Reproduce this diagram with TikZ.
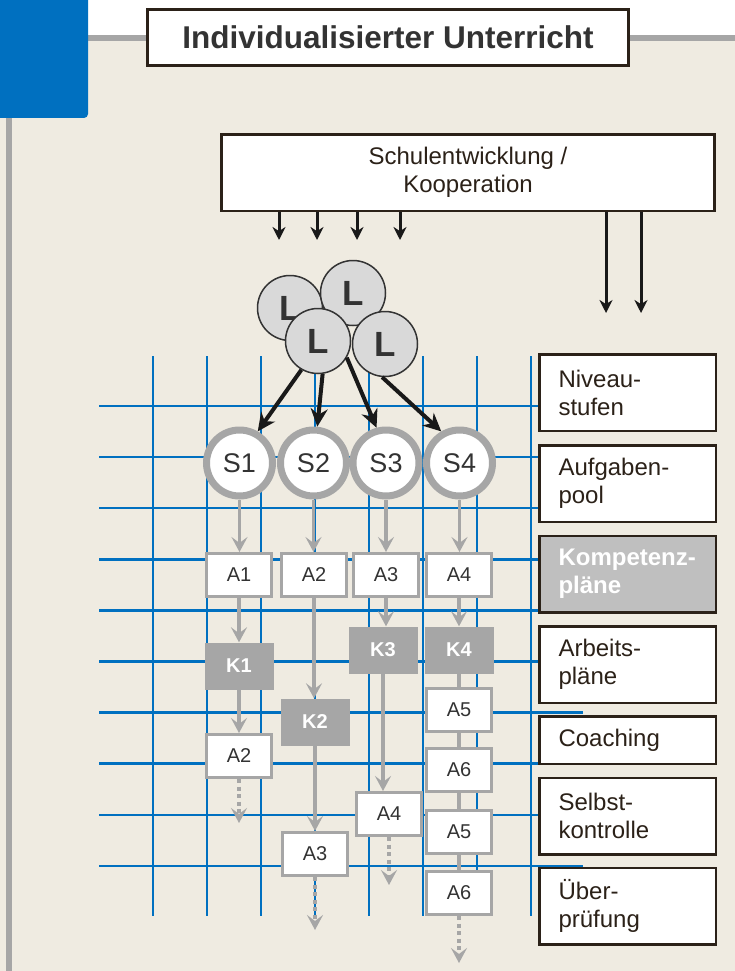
\documentclass[tikz,border=0pt]{standalone}
\usepackage{fontspec}
\setmainfont{Liberation Sans}
\usetikzlibrary{positioning,arrows.meta}
\definecolor{paper}{HTML}{EFEBE1}
\definecolor{gridblue}{HTML}{0070C0}
\definecolor{ringgrey}{HTML}{A6A6A6}
\definecolor{frameink}{HTML}{2B2118}
\definecolor{labelink}{HTML}{333333}
\definecolor{teacherfill}{HTML}{D9D9D9}
\definecolor{planfill}{HTML}{BFBFBF}
\tikzset{
	>={Stealth[length=13pt,width=13pt]},
	inkbox/.style = {draw=frameink, line width=2.5pt, fill=white, text=frameink},
	sidebox/.style = {inkbox, minimum height=76.5pt, text width=138pt, inner xsep=19.25pt, inner ysep=0pt, align=left},
	teacher/.style = {circle, draw=labelink, line width=1.5pt, fill=teacherfill, minimum size=65pt, inner sep=0pt, font=\fontsize{35}{35}\selectfont\bfseries, text=labelink},
	pupil/.style = {circle, draw=ringgrey, line width=7pt, fill=white, minimum size=66pt, inner sep=0pt, font=\fontsize{27}{27}\selectfont, text=labelink},
	task/.style = {draw=ringgrey, line width=3pt, fill=white, minimum width=65pt, minimum height=43pt, inner sep=0pt, font=\fontsize{20}{20}\selectfont, text=labelink},
	kbox/.style = {fill=ringgrey, minimum width=69pt, minimum height=47pt, inner sep=0pt, font=\fontsize{20}{20}\selectfont\bfseries, text=white},
	flow/.style = {draw=ringgrey, line width=3.2pt, -{Stealth[length=15pt,width=16pt,inset=6pt]}},
	flowdots/.style = {flow, line width=4pt, dash pattern=on 4pt off 3.5pt},
	linkline/.style = {draw=ringgrey, line width=4pt},
	push/.style = {->, draw=black!90, line width=3pt},
	assign/.style = {draw=black!90, line width=4pt, -{Stealth[length=18pt,width=17pt]}},
	gridline/.style = {draw=gridblue, line width=2.5pt},
}

\begin{document}
\begin{tikzpicture}[
x = 1pt,
y = -1pt,
every node/.style = {
	font = \fontsize{24}{28}\selectfont,
	align = center,
}
]
\useasboundingbox (0,0) rectangle (735,971);
\fill[paper] (0,0) rectangle (735,971);
\fill[white] (88,0) rectangle (735,37);
\draw[ringgrey, line width=6pt] (88,38) -- (735,38);
\draw[ringgrey, line width=6pt] (9,110) -- (9,971);
\fill[gridblue, rounded corners=4pt] (-6,-6) rectangle (88,118);

\node[inkbox, minimum width=481pt, minimum height=56pt, font=\fontsize{31.5}{31.5}\selectfont\bfseries, text=labelink] (title) at (388,37.5) {Individualisierter Unterricht};
\node[inkbox, minimum width=493pt, minimum height=76.5pt] (schule) at (468,172.5) {Schulentwicklung /\\Kooperation};

\foreach \k in {0,...,7}
	\draw[gridline] (153+54*\k,356) -- ++(0,560);
\foreach \k/\len in {0/439,1/439,2/439,3/439,4/439,5/439,6/484,7/439,8/439,9/484}
	\draw[gridline] (99,406+51.1*\k) -- ++(\len,0);

\node[sidebox] (niveau) at (627.5,392.5) {Niveau-\\stufen};
\node[sidebox] (pool) at (627.5,483.5) {Aufgaben-\\pool};
\node[sidebox, fill=planfill, text=white, font=\fontsize{24}{28}\selectfont\bfseries] (kompetenz) at (627.5,574) {Kompetenz-\\pläne};
\node[sidebox] (arbeit) at (627.5,664.5) {Arbeits-\\pläne};
\node[sidebox, minimum height=47.5pt] (coaching) at (627.5,740) {Coaching};
\node[sidebox] (selbst) at (627.5,816) {Selbst-\\kontrolle};
\node[sidebox] (pruef) at (627.5,906) {Über-\\prüfung};

\node[teacher] (l1) at (290,308) {L};
\node[teacher] (l2) at (353,293) {L};
\node[teacher] (l3) at (318,341) {L};
\node[teacher] (l4) at (385,344) {L};

\foreach \n/\x in {1/239.5,2/313.5,3/386,4/459.5}
	\node[pupil] (s\n) at (\x,463) {S\n};
\foreach \n/\x in {1/239,2/314,3/386,4/459}
	\node[task] (a\n) at (\x,575) {A\n};

\node[kbox] (k1) at (239,666) {K1};
\node[kbox] (k2) at (315,722) {K2};
\node[kbox] (k3) at (383,650) {K3};
\node[kbox] (k4) at (459,650) {K4};
\node[task] (a2b) at (239,756) {A2};
\node[task] (a3b) at (315,854) {A3};
\node[task] (a4b) at (389,814) {A4};
\node[task] (a5) at (459,710) {A5};
\node[task] (a6) at (459,770) {A6};
\node[task] (a5b) at (459,832) {A5};
\node[task] (a6b) at (459,893) {A6};

\draw[linkline] (k4) -- (a5) -- (a6) -- (a5b) -- (a6b);

\foreach \n in {1,...,4}
	\draw[flow] (s\n.south) -- (s\n.south |- a\n.north);
\draw[flow] (a1.south) -- (a1.south |- k1.north);
\draw[flow] (a2.south) -- (a2.south |- k2.north);
\draw[flow] (a3.south) -- (a3.south |- k3.north);
\draw[flow] (a4.south) -- (a4.south |- k4.north);
\draw[flow] (k1.south) -- (k1.south |- a2b.north);
\draw[flow] (k2.south) -- (k2.south |- a3b.north);
\draw[flow] (k3.south) -- (k3.south |- a4b.north);

\coordinate (end1) at (239,823);
\coordinate (end2) at (315,930);
\coordinate (end3) at (389,885);
\coordinate (end4) at (459,963);
\draw[flowdots] (a2b.south) -- (end1);
\draw[flowdots] (a3b.south) -- (end2);
\draw[flowdots] (a4b.south) -- (end3);
\draw[flowdots] (a6b.south) -- (end4);

\foreach \x [count=\i] in {279,317,357,400} {
	\coordinate (drop\i) at (\x,240);
	\draw[push] (drop\i |- schule.south) -- (drop\i);
}
\coordinate (feed1) at (606,313);
\coordinate (feed2) at (641,313);
\draw[push] (feed1 |- schule.south) -- (feed1);
\draw[push] (feed2 |- schule.south) -- (feed2);

\draw[assign] (l3.240) -- (s1.60);
\draw[assign] (l3.278) -- (s2.84);
\draw[assign] (l3.330) -- (s3.105);
\draw[assign] (l4.265) -- (s4.120);
\end{tikzpicture}
\end{document}
